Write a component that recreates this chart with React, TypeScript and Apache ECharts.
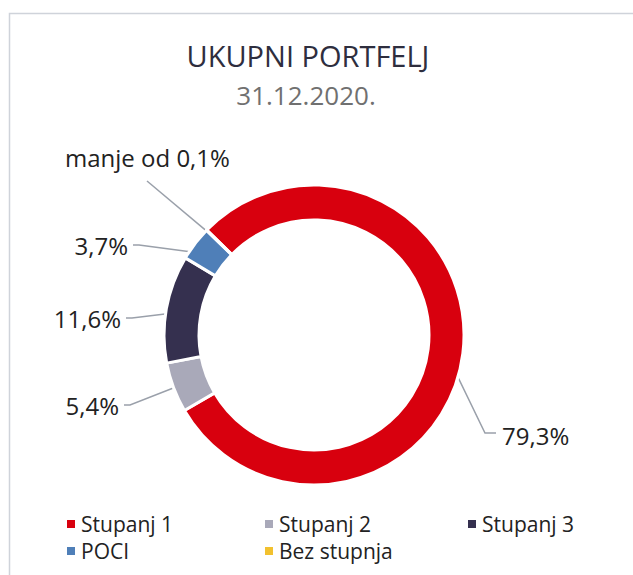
import React, { useEffect, useRef } from "react";
import * as echarts from "echarts";

const categories = ["Stupanj 1", "Stupanj 2", "Stupanj 3", "POCI", "Bez stupnja"];
const values = [79.3, 5.4, 11.6, 3.7, 0.04];
const labelTexts = ["79,3%", "5,4%", "11,6%", "3,7%", "manje od 0,1%"];
const colors = ["#d8000e", "#a9a9b9", "#35304f", "#4f7fb8", "#f2c12e"];
const titleText = "UKUPNI PORTFELJ";
const subtitleText = "31.12.2020.";

const FONT = "'Open Sans', 'Noto Sans', sans-serif";
const CX = 314;
const CY = 335;
const R_IN = 115;
const R_OUT = 150;
const START = 135.6;

// label anchor positions (layout, not data)
const LABEL_LAYOUT = [
  { x: 502, y: 435, align: "left", elbow: [485, 433], end: [496, 433] },
  { x: 119, y: 405, align: "right", elbow: [130, 405], end: [124, 405] },
  { x: 121, y: 318, align: "right", elbow: [132, 318], end: [126, 318] },
  { x: 128, y: 245, align: "right", elbow: [139, 245], end: [133, 245] },
  { x: 65, y: 157, align: "left", elbow: [147, 181], end: [147, 181] },
];

function anchorPoint(i: number): number[] {
  const total = values.reduce((a, b) => a + b, 0);
  let before = 0;
  for (let k = 0; k < i; k++) before += values[k];
  const a0 = START - (before / total) * 360;
  const mid = a0 - (values[i] / total) * 180;
  const r = i === 4 ? 140 : (R_IN + R_OUT) / 2;
  const rad = (mid * Math.PI) / 180;
  return [CX + r * Math.cos(rad), CY - r * Math.sin(rad)];
}

const legendBase = {
  orient: "vertical",
  top: 507,
  itemGap: 3,
  itemWidth: 10,
  itemHeight: 10,
  icon: "rect",
  textStyle: { fontFamily: FONT, fontSize: 21, lineHeight: 24, color: "#222" },
};

export default function App() {
  const ref = useRef<HTMLDivElement>(null);
  useEffect(() => {
    if (!ref.current) return;
    const chart = echarts.init(ref.current, null, { renderer: "svg" });
    chart.setOption({
      animation: false,
      backgroundColor: "#ffffff",
      color: colors,
      graphic: [
        {
          type: "rect",
          shape: { x: 9.5, y: 13.5, width: 700, height: 700 },
          style: { fill: "none", stroke: "#cfd3da", lineWidth: 1.5 },
          silent: true,
        },
        {
          type: "text",
          x: 308,
          y: 55,
          style: {
            text: titleText,
            align: "center",
            verticalAlign: "middle",
            font: `29px ${FONT}`,
            fill: "#2e2e3e",
          },
        },
        {
          type: "text",
          x: 306,
          y: 95,
          style: {
            text: subtitleText,
            align: "center",
            verticalAlign: "middle",
            font: `26px ${FONT}`,
            fill: "#707070",
          },
        },
      ],
      legend: [
        { ...legendBase, left: 60, data: ["Stupanj 1", "POCI"] },
        { ...legendBase, left: 258, data: ["Stupanj 2", "Bez stupnja"] },
        { ...legendBase, left: 461, data: ["Stupanj 3"] },
      ],
      series: [
        {
          type: "pie",
          center: [CX, CY],
          radius: [R_IN, R_OUT],
          startAngle: START,
          clockwise: true,
          avoidLabelOverlap: false,
          minAngle: 0,
          itemStyle: { borderColor: "#ffffff", borderWidth: 3 },
          label: {
            show: true,
            position: "outside",
            fontFamily: FONT,
            fontSize: 24,
            color: "#222",
            formatter: (p: any) => labelTexts[p.dataIndex],
          },
          labelLine: {
            show: true,
            lineStyle: { color: "#9aa0aa", width: 1.5 },
          },
          labelLayout: (p: any) => {
            const L = LABEL_LAYOUT[p.dataIndex];
            return {
              x: L.x,
              y: L.y,
              align: L.align,
              verticalAlign: "middle",
              labelLinePoints: [anchorPoint(p.dataIndex), L.elbow, L.end],
            };
          },
          emphasis: { disabled: true },
          data: categories.map((name, i) => ({ name, value: values[i] })),
        },
      ],
    });
    return () => chart.dispose();
  }, []);
  return (
    <div
      ref={ref}
      style={{ position: "absolute", left: 0, top: 0, width: 633, height: 575 }}
    />
  );
}
